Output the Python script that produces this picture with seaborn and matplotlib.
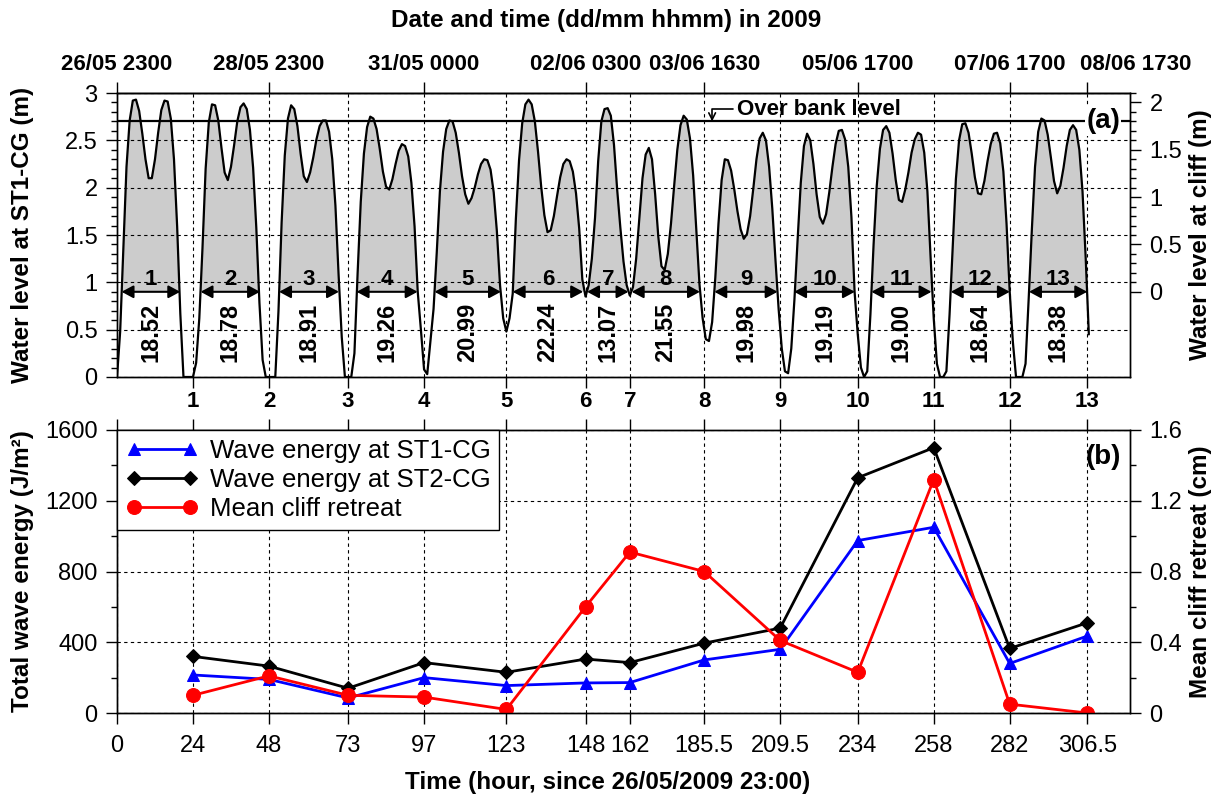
import numpy as np
import matplotlib
matplotlib.use("Agg")
import matplotlib.pyplot as plt
import seaborn as sns
from matplotlib.ticker import FixedLocator
from matplotlib.transforms import ScaledTranslation

# ---------------------------------------------------------------- data
# Hourly water level at ST1-CG (m); hour 0 = 26/05/2009 23:00
water_level = [
    0.00, 0.48, 1.35, 2.22, 2.71, 2.92, 2.93, 2.81, 2.57, 2.30,
    2.10, 2.10, 2.30, 2.58, 2.82, 2.92, 2.91, 2.73, 2.30, 1.59,
    0.67, 0.00, 0.00, 0.00, 0.00, 0.15, 0.62, 1.36, 2.20, 2.69,
    2.88, 2.87, 2.71, 2.42, 2.16, 2.08, 2.22, 2.45, 2.70, 2.85,
    2.89, 2.83, 2.61, 2.21, 1.58, 0.78, 0.18, 0.00, 0.00, 0.00,
    0.00, 0.69, 1.63, 2.34, 2.73, 2.87, 2.83, 2.65, 2.36, 2.12,
    2.06, 2.16, 2.32, 2.51, 2.65, 2.71, 2.71, 2.59, 2.30, 1.81,
    1.08, 0.42, 0.00, 0.00, 0.00, 0.25, 1.09, 1.85, 2.36, 2.64,
    2.75, 2.73, 2.62, 2.41, 2.17, 2.01, 1.98, 2.09, 2.25, 2.39,
    2.46, 2.44, 2.33, 2.05, 1.59, 0.90, 0.50, 0.08, 0.03, 0.38,
    0.72, 1.31, 1.96, 2.38, 2.62, 2.71, 2.70, 2.58, 2.37, 2.12,
    1.93, 1.83, 1.89, 2.00, 2.14, 2.25, 2.30, 2.29, 2.19, 1.95,
    1.54, 0.97, 0.62, 0.48, 0.62, 0.88, 1.67, 2.29, 2.68, 2.88,
    2.93, 2.88, 2.70, 2.38, 2.01, 1.71, 1.53, 1.55, 1.70, 1.91,
    2.11, 2.25, 2.30, 2.28, 2.17, 1.94, 1.57, 1.03, 0.85, 0.97,
    1.25, 1.68, 2.28, 2.70, 2.83, 2.84, 2.76, 2.45, 1.98, 1.58,
    1.22, 0.97, 0.86, 0.95, 1.25, 1.68, 2.10, 2.35, 2.42, 2.30,
    1.93, 1.48, 1.17, 1.13, 1.30, 1.62, 2.02, 2.40, 2.66, 2.76,
    2.72, 2.52, 2.13, 1.55, 0.98, 0.62, 0.40, 0.38, 0.58, 1.05,
    1.62, 2.08, 2.30, 2.29, 2.18, 1.98, 1.75, 1.56, 1.46, 1.51,
    1.70, 1.99, 2.30, 2.52, 2.58, 2.50, 2.22, 1.78, 1.24, 0.72,
    0.30, 0.06, 0.04, 0.30, 0.82, 1.45, 2.05, 2.44, 2.57, 2.50,
    2.25, 1.93, 1.69, 1.62, 1.72, 1.95, 2.22, 2.46, 2.60, 2.61,
    2.51, 2.22, 1.69, 0.90, 0.45, 0.10, 0.00, 0.06, 0.66, 1.40,
    2.02, 2.41, 2.61, 2.65, 2.58, 2.36, 2.08, 1.87, 1.85, 1.98,
    2.16, 2.37, 2.51, 2.58, 2.56, 2.37, 1.96, 1.27, 0.62, 0.14,
    0.00, 0.00, 0.06, 0.66, 1.38, 2.09, 2.50, 2.67, 2.68, 2.58,
    2.36, 2.11, 1.94, 1.93, 2.07, 2.28, 2.46, 2.57, 2.58, 2.47,
    2.17, 1.62, 0.90, 0.37, 0.00, 0.00, 0.00, 0.14, 0.83, 1.56,
    2.22, 2.59, 2.73, 2.71, 2.56, 2.32, 2.07, 1.94, 2.02, 2.21,
    2.44, 2.61, 2.66, 2.61, 2.40, 1.96, 1.26, 0.45,
]

# End of each tidal cycle (hours since 26/05/2009 23:00)
cycle_end = [24, 48, 73, 97, 123, 148, 162, 185.5, 209.5, 234, 258, 282, 306.5]
cycle_names = ["1", "2", "3", "4", "5", "6", "7", "8", "9", "10", "11", "12", "13"]

# Inundation of the cliff foot in each cycle: start (h) and duration (h)
inundation_start = [1.45, 26.4, 51.2, 75.7, 100.3, 125.0, 148.5, 162.6,
                    188.7, 213.9, 238.3, 263.4, 288.1]
inundation_hours = [18.52, 18.78, 18.91, 19.26, 20.99, 22.24, 13.07, 21.55,
                    19.98, 19.19, 19.00, 18.64, 18.38]

date_hours = [0, 48, 97, 148, 185.5, 234, 282, 306.5]
date_labels = ["26/05 2300", "28/05 2300", "31/05 0000", "02/06 0300",
               "03/06 1630", "05/06 1700", "07/06 1700", "08/06 1730"]

over_bank_level = 2.7     # m at ST1-CG
cliff_foot_level = 0.9    # m at ST1-CG (= 0 m at the cliff)

# Per-cycle totals
energy_st1 = [215, 190, 85, 200, 155, 170, 172, 300, 360, 975, 1050, 280, 435]
energy_st2 = [320, 265, 140, 285, 230, 305, 285, 395, 480, 1330, 1500, 365, 510]
cliff_retreat = [0.10, 0.21, 0.10, 0.09, 0.02, 0.60, 0.91, 0.80, 0.41,
                 0.23, 1.32, 0.05, 0.00]

# ---------------------------------------------------------------- style
sns.set_style("ticks")
plt.rcParams["font.family"] = ["Liberation Sans", "DejaVu Sans"]
plt.rcParams.update({
    "axes.linewidth": 1.0,
    "axes.edgecolor": "black",
    "axes.labelcolor": "black",
    "text.color": "black",
    "xtick.color": "black",
    "ytick.color": "black",
})

TICK_FS = 17
LABEL_FS = 17.5
GRID = dict(ls=(0, (3, 3)), color="black", lw=0.8)

W, H = 1222, 799
fig = plt.figure(figsize=(W / 100, H / 100), dpi=100)
ax1 = fig.add_axes([117 / W, 1 - 377 / H, 1013 / W, 284 / H])
ax2 = fig.add_axes([117 / W, 1 - 713 / H, 1013 / W, 283 / H])

XMAX = 320

# ---------------------------------------------------------------- panel (a)
hours = np.arange(len(water_level))
lvl = np.array(water_level)

ax1.fill_between(hours, cliff_foot_level, lvl, where=lvl > cliff_foot_level,
                 interpolate=True, color="#cccccc", lw=0, zorder=1)
sns.lineplot(x=hours, y=lvl, ax=ax1, color="black", lw=1.6, zorder=4,
             legend=False)
ax1.axhline(over_bank_level, color="black", lw=1.6, zorder=3)

for name, s, d in zip(cycle_names, inundation_start, inundation_hours):
    ax1.annotate("", xy=(s + d, cliff_foot_level), xytext=(s, cliff_foot_level),
                 arrowprops=dict(arrowstyle="<|-|>,head_length=0.5,head_width=0.27",
                                 color="black", lw=1.5, shrinkA=0, shrinkB=0,
                                 mutation_scale=14),
                 zorder=5)
    mid = s + d / 2
    ax1.text(mid, 0.915, name, ha="center", va="bottom", fontsize=16,
             fontweight="bold", zorder=6)
    ax1.text(mid, 0.47, f"{d:.2f}", rotation=90, ha="center", va="center",
             fontsize=17, fontweight="bold", zorder=6)

ax1.annotate("Over bank level", xy=(188.0, over_bank_level),
             xytext=(196.0, 2.83), ha="left", va="center",
             fontsize=16, fontweight="bold",
             arrowprops=dict(arrowstyle="->", color="black", lw=1.2,
                             connectionstyle="angle,angleA=0,angleB=90,rad=0",
                             shrinkA=1, shrinkB=0, mutation_scale=12),
             zorder=6)
ax1.text(311.5, over_bank_level, "(a)", ha="center", va="center", fontsize=20,
         fontweight="bold", zorder=6,
         bbox=dict(facecolor="white", edgecolor="none", pad=1))

ax1.set_xlim(0, XMAX)
ax1.set_ylim(0, 3)
ax1.set_xticks(cycle_end, labels=cycle_names)
ax1.set_yticks([0, 0.5, 1, 1.5, 2, 2.5, 3],
               labels=["0", "0.5", "1", "1.5", "2", "2.5", "3"])
ax1.yaxis.set_minor_locator(FixedLocator(np.arange(0, 3.01, 0.1)))
ax1.set_axisbelow(False)
ax1.grid(True, which="major", **GRID)
ax1.tick_params(axis="x", which="major", direction="out", length=8, width=1,
                pad=2, labelsize=16, top=False)
ax1.tick_params(axis="y", which="major", direction="out", length=8, width=1,
                pad=6, labelsize=TICK_FS)
ax1.tick_params(axis="y", which="minor", direction="out", length=4, width=1)
for lbl in ax1.get_xticklabels():
    lbl.set_fontweight("bold")
ax1.set_xlabel("")
ax1.set_ylabel("Water level at ST1-CG (m)", fontsize=LABEL_FS, fontweight="bold")
ax1.yaxis.set_label_coords(-0.082, 0.5)

# date axis along the top
top = ax1.secondary_xaxis("top")
top.set_xticks(date_hours, labels=date_labels)
top.tick_params(axis="x", direction="out", length=8, width=1, pad=5,
                labelsize=16)
for lbl in top.get_xticklabels():
    lbl.set_fontweight("bold")
last = top.get_xticklabels()[-1]
last.set_transform(last.get_transform() + ScaledTranslation(0.48, 0, fig.dpi_scale_trans))

# water level at the cliff (right axis)
ax1r = ax1.twinx()
ax1r.set_ylim(-cliff_foot_level, 3 - cliff_foot_level)
ax1r.set_yticks([0, 0.5, 1, 1.5, 2], labels=["0", "0.5", "1", "1.5", "2"])
ax1r.yaxis.set_minor_locator(FixedLocator(np.arange(0, 2.11, 0.1)))
ax1r.tick_params(axis="y", which="major", direction="out", length=8, width=1,
                 pad=6, labelsize=TICK_FS)
ax1r.tick_params(axis="y", which="minor", direction="out", length=4, width=1)
ax1r.set_ylabel("Water level at cliff (m)", fontsize=LABEL_FS, fontweight="bold")
ax1r.yaxis.set_label_coords(1.058, 0.5)

# ---------------------------------------------------------------- panel (b)
sns.lineplot(x=cycle_end, y=energy_st1, ax=ax2, color="blue", lw=2,
             marker="^", ms=8, mec="blue", label="Wave energy at ST1-CG")
sns.lineplot(x=cycle_end, y=energy_st2, ax=ax2, color="black", lw=2,
             marker="D", ms=7, mec="black", label="Wave energy at ST2-CG")
ax2r = ax2.twinx()
sns.lineplot(x=cycle_end, y=cliff_retreat, ax=ax2r, color="red", lw=2,
             marker="o", ms=10, mec="red", label="Mean cliff retreat")

handles, labels = [], []
for a in (ax2, ax2r):
    h, l = a.get_legend_handles_labels()
    handles += h
    labels += l
    if a.get_legend() is not None:
        a.get_legend().remove()

leg = ax2r.legend(handles, labels, loc="upper left", bbox_to_anchor=(0, 1),
                  borderaxespad=0, frameon=True, fancybox=False,
                  edgecolor="black", framealpha=1, fontsize=18.5, numpoints=2,
                  handlelength=2.8, handletextpad=0.45, borderpad=0.35,
                  labelspacing=0.2)
leg.get_frame().set_linewidth(1.0)

ax2.set_xlim(0, XMAX)
ax2.set_ylim(0, 1600)
bottom_ticks = [0] + cycle_end
ax2.set_xticks(bottom_ticks, labels=[f"{v:g}" for v in bottom_ticks])
ax2.set_yticks([0, 400, 800, 1200, 1600])
ax2.yaxis.set_minor_locator(FixedLocator([200, 600, 1000, 1400]))
ax2.set_axisbelow(True)
ax2.grid(True, which="major", **GRID)
ax2.tick_params(axis="x", which="major", direction="out", length=8, width=1,
                pad=8, labelsize=TICK_FS, top=True, labeltop=False)
ax2.tick_params(axis="y", which="major", direction="out", length=8, width=1,
                pad=6, labelsize=TICK_FS)
ax2.tick_params(axis="y", which="minor", direction="out", length=4, width=1)
ax2.set_xlabel("")
ax2.set_ylabel("Total wave energy (J/m²)", fontsize=LABEL_FS, fontweight="bold")
ax2.yaxis.set_label_coords(-0.082, 0.5)

ax2r.set_ylim(0, 1.6)
ax2r.set_yticks([0, 0.4, 0.8, 1.2, 1.6], labels=["0", "0.4", "0.8", "1.2", "1.6"])
ax2r.yaxis.set_minor_locator(FixedLocator([0.2, 0.6, 1.0, 1.4]))
ax2r.grid(False)
ax2r.tick_params(axis="y", which="major", direction="out", length=8, width=1,
                 pad=6, labelsize=TICK_FS)
ax2r.tick_params(axis="y", which="minor", direction="out", length=4, width=1)
ax2r.set_ylabel("Mean cliff retreat (cm)", fontsize=LABEL_FS, fontweight="bold")
ax2r.yaxis.set_label_coords(1.058, 0.5)

ax2r.text(311.5 / XMAX, 1446 / 1600, "(b)", transform=ax2r.transAxes,
          ha="center", va="center", fontsize=20, fontweight="bold")

fig.text(606.5 / W, 1 - 20 / H, "Date and time (dd/mm hhmm) in 2009",
         ha="center", va="center", fontsize=LABEL_FS, fontweight="bold")
fig.text(607.5 / W, 1 - 783 / H, "Time (hour, since 26/05/2009 23:00)",
         ha="center", va="center", fontsize=LABEL_FS, fontweight="bold")

fig.savefig("out.png", dpi=100)
